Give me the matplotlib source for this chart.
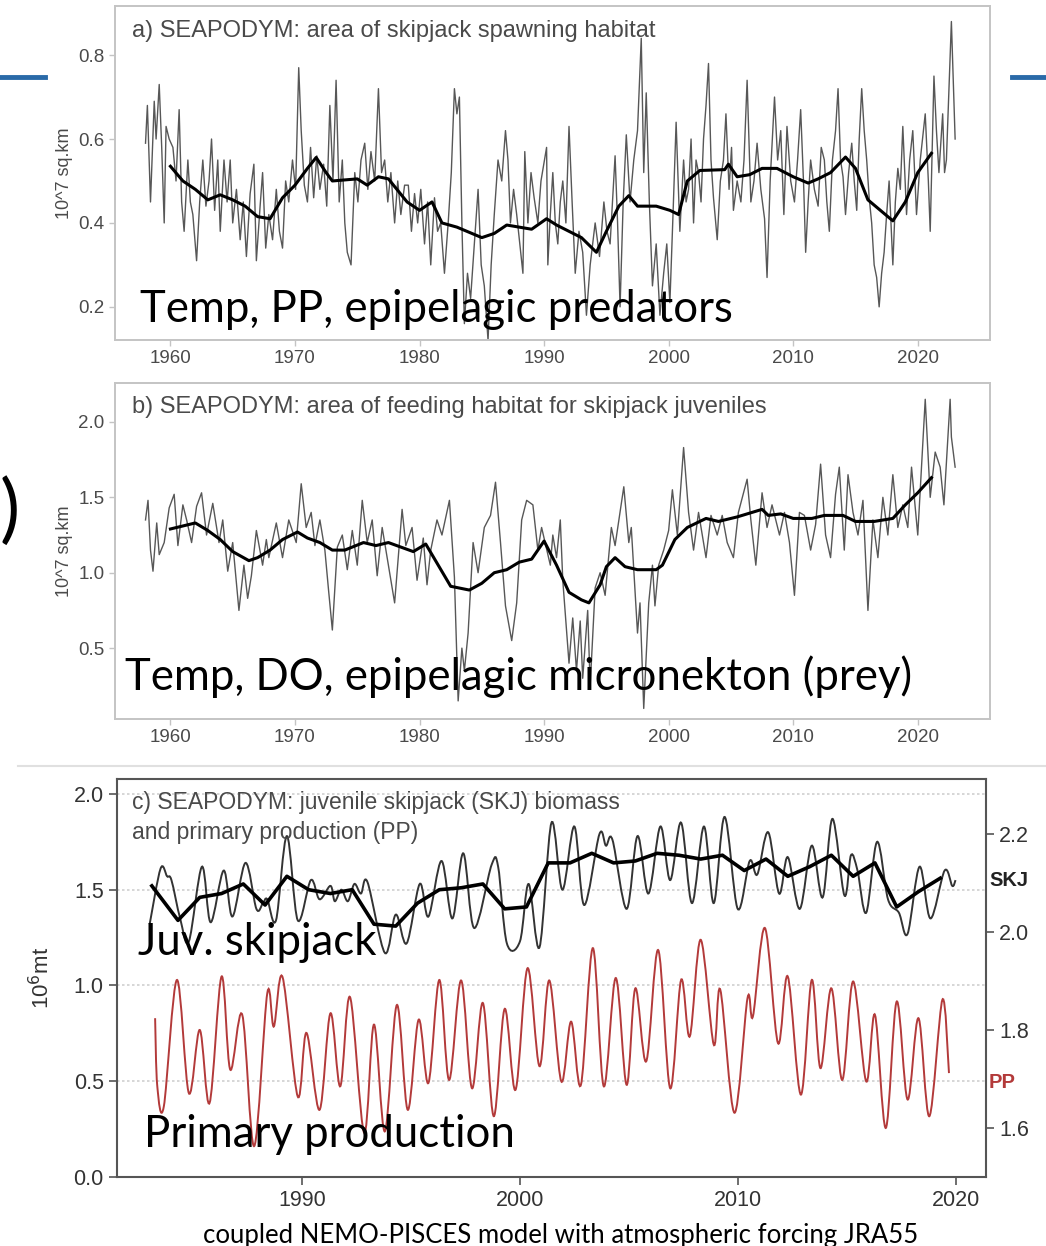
import matplotlib
matplotlib.use("Agg")
import matplotlib.pyplot as plt
from matplotlib.lines import Line2D
from matplotlib.path import Path
from matplotlib.patches import PathPatch

# ---- data ----
# a) area of skipjack spawning habitat (10^7 sq.km)
spawn_raw = [
    (1958.0, 0.59), (1958.15, 0.68), (1958.4, 0.45), (1958.7, 0.69), (1958.85, 0.60),
    (1959.1, 0.73), (1959.3, 0.58), (1959.5, 0.40), (1959.65, 0.63), (1959.9, 0.60),
    (1960.2, 0.58), (1960.45, 0.50), (1960.7, 0.67), (1960.9, 0.45), (1961.1, 0.38),
    (1961.4, 0.55), (1961.6, 0.45), (1961.8, 0.42), (1962.1, 0.31), (1962.35, 0.45),
    (1962.6, 0.55), (1962.85, 0.44), (1963.1, 0.50), (1963.3, 0.60), (1963.55, 0.43),
    (1963.8, 0.55), (1964.0, 0.38), (1964.3, 0.55), (1964.55, 0.45), (1964.8, 0.55),
    (1965.0, 0.40), (1965.3, 0.48), (1965.6, 0.36), (1965.85, 0.45), (1966.1, 0.32),
    (1966.4, 0.47), (1966.7, 0.54), (1966.9, 0.31), (1967.2, 0.44), (1967.4, 0.52),
    (1967.65, 0.34), (1967.9, 0.42), (1968.2, 0.36), (1968.5, 0.48), (1968.75, 0.38),
    (1969.0, 0.34), (1969.25, 0.50), (1969.5, 0.45), (1969.8, 0.55), (1970.05, 0.48),
    (1970.3, 0.77), (1970.5, 0.62), (1970.75, 0.49), (1971.0, 0.45), (1971.25, 0.58),
    (1971.5, 0.46), (1971.75, 0.56), (1972.0, 0.48), (1972.3, 0.54), (1972.55, 0.44),
    (1972.8, 0.68), (1973.05, 0.50), (1973.3, 0.74), (1973.55, 0.45), (1973.8, 0.55),
    (1974.0, 0.40), (1974.2, 0.33), (1974.5, 0.30), (1974.8, 0.52), (1975.05, 0.45),
    (1975.3, 0.55), (1975.6, 0.59), (1975.85, 0.48), (1976.1, 0.57), (1976.4, 0.50),
    (1976.7, 0.72), (1976.95, 0.52), (1977.2, 0.55), (1977.45, 0.45), (1977.7, 0.52),
    (1978.0, 0.40), (1978.25, 0.50), (1978.5, 0.42), (1978.8, 0.49), (1979.1, 0.49),
    (1979.35, 0.38), (1979.6, 0.47), (1979.85, 0.40), (1980.1, 0.48), (1980.4, 0.35),
    (1980.65, 0.45), (1980.9, 0.30), (1981.2, 0.46), (1981.45, 0.38), (1981.7, 0.40),
    (1982.0, 0.28), (1982.3, 0.40), (1982.55, 0.52), (1982.8, 0.72), (1983.0, 0.66),
    (1983.2, 0.70), (1983.4, 0.40), (1983.6, 0.16), (1983.85, 0.28), (1984.1, 0.22),
    (1984.4, 0.35), (1984.7, 0.48), (1984.95, 0.30), (1985.2, 0.25), (1985.5, 0.12),
    (1985.75, 0.30), (1986.0, 0.42), (1986.3, 0.55), (1986.6, 0.50), (1986.9, 0.62),
    (1987.1, 0.55), (1987.3, 0.40), (1987.55, 0.48), (1987.8, 0.42), (1988.05, 0.35),
    (1988.3, 0.28), (1988.45, 0.57), (1988.7, 0.40), (1988.95, 0.52), (1989.2, 0.46),
    (1989.5, 0.40), (1989.75, 0.50), (1990.2, 0.58), (1990.3, 0.30), (1990.5, 0.42),
    (1990.7, 0.52), (1990.9, 0.40), (1991.1, 0.35), (1991.3, 0.45), (1991.5, 0.50),
    (1991.75, 0.40), (1992.0, 0.63), (1992.25, 0.45), (1992.5, 0.28), (1992.8, 0.38),
    (1993.1, 0.33), (1993.4, 0.18), (1993.7, 0.30), (1994.1, 0.40), (1994.45, 0.32),
    (1994.8, 0.45), (1995.05, 0.38), (1995.3, 0.35), (1995.7, 0.56), (1995.9, 0.40),
    (1996.1, 0.20), (1996.35, 0.45), (1996.6, 0.61), (1996.9, 0.45), (1997.2, 0.55),
    (1997.5, 0.62), (1997.8, 0.84), (1998.0, 0.52), (1998.2, 0.71), (1998.45, 0.45),
    (1998.7, 0.25), (1999.0, 0.35), (1999.3, 0.18), (1999.6, 0.28), (1999.85, 0.35),
    (2000.1, 0.21), (2000.35, 0.42), (2000.6, 0.64), (2000.9, 0.38), (2001.2, 0.55),
    (2001.4, 0.45), (2001.6, 0.48), (2001.8, 0.60), (2002.0, 0.40), (2002.2, 0.55),
    (2002.4, 0.52), (2002.6, 0.45), (2002.8, 0.60), (2003.0, 0.68), (2003.2, 0.78),
    (2003.4, 0.55), (2003.6, 0.46), (2003.9, 0.36), (2004.15, 0.50), (2004.4, 0.55),
    (2004.6, 0.66), (2004.85, 0.48), (2005.05, 0.58), (2005.2, 0.43), (2005.5, 0.50),
    (2005.8, 0.45), (2006.05, 0.55), (2006.3, 0.74), (2006.6, 0.45), (2006.85, 0.50),
    (2007.1, 0.59), (2007.4, 0.48), (2007.7, 0.41), (2007.9, 0.27), (2008.15, 0.50),
    (2008.5, 0.70), (2008.75, 0.55), (2009.0, 0.62), (2009.25, 0.42), (2009.5, 0.63),
    (2009.8, 0.50), (2010.1, 0.45), (2010.35, 0.55), (2010.6, 0.67), (2010.85, 0.48),
    (2011.0, 0.33), (2011.2, 0.45), (2011.4, 0.55), (2011.7, 0.48), (2012.0, 0.44),
    (2012.25, 0.58), (2012.5, 0.55), (2012.7, 0.45), (2012.9, 0.38), (2013.15, 0.55),
    (2013.4, 0.62), (2013.6, 0.72), (2013.8, 0.55), (2014.0, 0.51), (2014.2, 0.42),
    (2014.45, 0.52), (2014.7, 0.59), (2014.9, 0.50), (2015.1, 0.43), (2015.3, 0.60),
    (2015.5, 0.72), (2015.7, 0.62), (2015.9, 0.55), (2016.1, 0.46), (2016.3, 0.40),
    (2016.5, 0.30), (2016.7, 0.27), (2016.9, 0.20), (2017.1, 0.28), (2017.3, 0.33),
    (2017.5, 0.42), (2017.7, 0.50), (2018.0, 0.30), (2018.2, 0.45), (2018.4, 0.53),
    (2018.6, 0.48), (2018.8, 0.63), (2019.1, 0.42), (2019.35, 0.55), (2019.6, 0.62),
    (2019.9, 0.42), (2020.2, 0.55), (2020.45, 0.62), (2020.6, 0.66), (2020.85, 0.50),
    (2021.0, 0.38), (2021.3, 0.75), (2021.5, 0.62), (2021.7, 0.52), (2022.0, 0.66),
    (2022.15, 0.52), (2022.3, 0.55), (2022.7, 0.88), (2023.0, 0.60),
]
spawn_smooth = [
    (1960.0, 0.535), (1961.0, 0.50), (1962.0, 0.48), (1963.0, 0.455), (1964.0, 0.467),
    (1965.0, 0.455), (1966.0, 0.44), (1967.0, 0.415), (1968.0, 0.41), (1969.0, 0.46),
    (1970.0, 0.49), (1971.0, 0.53), (1971.7, 0.556), (1972.5, 0.52), (1973.0, 0.50),
    (1975.0, 0.505), (1975.8, 0.49), (1976.7, 0.51), (1977.5, 0.505), (1979.0, 0.45),
    (1980.0, 0.43), (1981.0, 0.45), (1981.8, 0.40), (1983.0, 0.39), (1985.0, 0.365),
    (1986.0, 0.375), (1987.0, 0.395), (1988.0, 0.39), (1989.0, 0.385), (1990.2, 0.41),
    (1991.0, 0.395), (1992.0, 0.38), (1993.0, 0.365), (1994.2, 0.33), (1995.0, 0.38),
    (1996.0, 0.44), (1996.8, 0.465), (1997.5, 0.44), (1999.0, 0.44), (2000.1, 0.43),
    (2000.8, 0.42), (2001.5, 0.50), (2002.5, 0.525), (2004.5, 0.527), (2004.8, 0.54),
    (2005.5, 0.51), (2006.5, 0.515), (2007.5, 0.53), (2008.7, 0.53), (2010.0, 0.51),
    (2011.2, 0.495), (2012.0, 0.505), (2013.0, 0.52), (2014.2, 0.557), (2015.0, 0.53),
    (2016.0, 0.455), (2017.0, 0.43), (2018.0, 0.405), (2019.0, 0.45), (2020.0, 0.52),
    (2021.1, 0.566),
]

# b) area of feeding habitat for skipjack juveniles (10^7 sq.km)
feed_raw = [
    (1958.0, 1.35), (1958.2, 1.48), (1958.4, 1.15), (1958.6, 1.01), (1958.9, 1.33),
    (1959.1, 1.12), (1959.5, 1.20), (1959.9, 1.43), (1960.3, 1.52), (1960.6, 1.18),
    (1961.0, 1.45), (1961.3, 1.35), (1961.7, 1.20), (1962.1, 1.44), (1962.5, 1.53),
    (1962.9, 1.25), (1963.4, 1.46), (1963.9, 1.20), (1964.2, 1.35), (1964.6, 1.01),
    (1965.0, 1.20), (1965.5, 0.75), (1965.9, 1.05), (1966.2, 0.83), (1966.5, 0.98),
    (1966.9, 1.28), (1967.4, 1.05), (1967.7, 1.22), (1967.9, 1.10), (1968.5, 1.33),
    (1969.0, 1.10), (1969.5, 1.35), (1970.1, 1.20), (1970.5, 1.59), (1970.9, 1.30),
    (1971.3, 1.40), (1971.6, 1.18), (1972.0, 1.35), (1972.4, 1.15), (1972.7, 0.88),
    (1973.0, 0.62), (1973.4, 1.17), (1973.8, 1.25), (1974.2, 1.02), (1974.6, 1.28),
    (1975.0, 1.05), (1975.4, 1.48), (1975.8, 1.20), (1976.2, 1.35), (1976.6, 0.98),
    (1977.0, 1.30), (1977.4, 1.10), (1978.0, 0.80), (1978.6, 1.42), (1978.9, 1.18),
    (1979.4, 1.30), (1979.8, 0.95), (1980.3, 1.23), (1980.6, 0.92), (1980.9, 1.15),
    (1981.4, 1.35), (1981.8, 1.25), (1982.4, 1.48), (1982.8, 0.97), (1983.1, 0.15),
    (1983.4, 0.50), (1983.6, 0.35), (1983.9, 0.60), (1984.3, 1.20), (1984.7, 1.00),
    (1985.2, 1.30), (1985.7, 1.38), (1986.1, 1.60), (1986.5, 1.20), (1986.9, 0.78),
    (1987.4, 0.55), (1987.8, 0.80), (1988.2, 1.35), (1988.6, 1.48), (1989.1, 1.45),
    (1989.5, 1.15), (1989.8, 1.30), (1990.5, 1.05), (1990.7, 1.25), (1991.0, 1.10),
    (1991.3, 1.35), (1991.5, 0.95), (1992.0, 0.40), (1992.3, 0.70), (1992.6, 0.35),
    (1992.9, 0.68), (1993.1, 0.30), (1993.5, 0.75), (1993.7, 0.25), (1994.1, 0.90),
    (1994.5, 1.00), (1994.9, 0.85), (1995.4, 1.30), (1995.7, 1.18), (1996.4, 1.57),
    (1996.8, 1.20), (1997.0, 1.30), (1997.5, 0.60), (1997.7, 0.80), (1998.0, 0.10),
    (1998.4, 0.80), (1998.7, 1.05), (1998.9, 0.78), (1999.2, 1.05), (1999.6, 1.15),
    (2000.0, 1.28), (2000.3, 1.55), (2000.7, 1.25), (2001.2, 1.83), (2001.6, 1.40),
    (2002.0, 1.15), (2002.4, 1.40), (2003.0, 1.10), (2003.4, 1.38), (2003.9, 1.25),
    (2004.3, 1.38), (2004.7, 1.20), (2005.2, 1.10), (2005.6, 1.40), (2006.3, 1.62),
    (2006.6, 1.35), (2007.0, 1.05), (2007.5, 1.53), (2007.9, 1.30), (2008.3, 1.45),
    (2008.9, 1.25), (2009.3, 1.40), (2009.7, 1.20), (2010.1, 0.85), (2010.5, 1.40),
    (2010.9, 1.38), (2011.4, 1.15), (2011.8, 1.32), (2012.2, 1.72), (2012.6, 1.25),
    (2013.0, 1.10), (2013.4, 1.52), (2013.7, 1.70), (2014.1, 1.15), (2014.4, 1.65),
    (2014.8, 1.40), (2015.2, 1.25), (2015.6, 1.48), (2016.0, 0.75), (2016.4, 1.35),
    (2016.8, 1.10), (2017.2, 1.50), (2017.6, 1.25), (2018.0, 1.65), (2018.4, 1.30),
    (2018.8, 1.45), (2019.2, 1.30), (2019.5, 1.70), (2020.0, 1.25), (2020.6, 2.15),
    (2021.0, 1.50), (2021.4, 1.80), (2021.8, 1.70), (2022.1, 1.45), (2022.6, 2.15),
    (2022.7, 1.90), (2023.0, 1.70),
]
feed_smooth = [
    (1960.0, 1.29), (1961.0, 1.31), (1962.0, 1.33), (1963.0, 1.28), (1964.0, 1.22),
    (1965.0, 1.14), (1966.3, 1.08), (1967.0, 1.10), (1968.0, 1.15), (1969.0, 1.22),
    (1970.2, 1.27), (1971.0, 1.23), (1972.0, 1.20), (1973.0, 1.15), (1974.0, 1.15),
    (1975.5, 1.20), (1976.5, 1.18), (1977.5, 1.20), (1978.5, 1.17), (1979.5, 1.14),
    (1980.5, 1.19), (1981.5, 1.05), (1982.5, 0.91), (1984.0, 0.885), (1985.0, 0.93),
    (1986.0, 1.00), (1987.0, 1.02), (1988.0, 1.07), (1989.0, 1.09), (1990.0, 1.21),
    (1991.0, 1.05), (1992.0, 0.87), (1993.0, 0.82), (1993.6, 0.80), (1994.5, 0.92),
    (1995.0, 1.04), (1995.7, 1.10), (1996.5, 1.04), (1997.5, 1.02), (1999.0, 1.02),
    (1999.5, 1.05), (2000.5, 1.22), (2001.5, 1.30), (2003.0, 1.36), (2004.0, 1.34),
    (2005.5, 1.37), (2007.5, 1.42), (2008.0, 1.38), (2009.0, 1.39), (2010.0, 1.36),
    (2011.5, 1.36), (2012.5, 1.38), (2014.0, 1.38), (2015.0, 1.34), (2016.5, 1.34),
    (2018.0, 1.36), (2019.0, 1.45), (2020.0, 1.53), (2021.1, 1.63),
]

# c) juvenile skipjack biomass (10^6 mt, left axis) and primary production (right axis)
skj_raw = [
    (1983.0, 1.32), (1983.5, 1.61), (1983.8, 1.57), (1984.0, 1.55), (1984.4, 1.35),
    (1984.8, 1.23), (1985.4, 1.62), (1985.8, 1.33), (1986.4, 1.60), (1986.8, 1.36),
    (1987.4, 1.64), (1987.9, 1.40), (1988.2, 1.43), (1988.4, 1.45), (1988.8, 1.34),
    (1989.3, 1.78), (1989.8, 1.34), (1990.4, 1.55), (1990.8, 1.45), (1991.3, 1.52),
    (1991.5, 1.44), (1991.8, 1.50), (1992.1, 1.44), (1992.4, 1.53), (1992.7, 1.48),
    (1993.0, 1.54), (1993.8, 1.17), (1994.3, 1.37), (1994.8, 1.22), (1995.4, 1.53),
    (1995.8, 1.36), (1996.4, 1.65), (1996.9, 1.35), (1997.4, 1.69), (1997.9, 1.30),
    (1998.7, 1.63), (1999.0, 1.62), (1999.4, 1.22), (2000.0, 1.23), (2000.4, 1.53),
    (2000.9, 1.20), (2001.45, 1.85), (2001.95, 1.50), (2002.5, 1.83), (2002.95, 1.42),
    (2003.65, 1.79), (2003.95, 1.73), (2004.25, 1.76), (2004.9, 1.40), (2005.4, 1.78),
    (2005.9, 1.48), (2006.45, 1.83), (2006.9, 1.55), (2007.4, 1.85), (2007.9, 1.43),
    (2008.45, 1.83), (2008.9, 1.43), (2009.4, 1.88), (2010.0, 1.40), (2010.55, 1.65),
    (2010.9, 1.58), (2011.4, 1.80), (2011.9, 1.48), (2012.3, 1.67), (2012.85, 1.40),
    (2013.4, 1.73), (2013.9, 1.46), (2014.35, 1.87), (2014.9, 1.47), (2015.2, 1.68),
    (2015.5, 1.60), (2015.9, 1.38), (2016.4, 1.75), (2016.9, 1.45), (2017.4, 1.38),
    (2017.8, 1.27), (2018.35, 1.62), (2018.85, 1.35), (2019.5, 1.60), (2019.85, 1.52),
    (2020.0, 1.55),
]
skj_smooth = [
    (1983.1, 1.52), (1984.3, 1.34), (1985.3, 1.46), (1986.3, 1.48), (1987.3, 1.53),
    (1988.3, 1.42), (1989.3, 1.57), (1990.3, 1.50), (1991.3, 1.48), (1992.3, 1.50),
    (1993.3, 1.32), (1994.3, 1.31), (1995.3, 1.43), (1996.3, 1.50), (1997.3, 1.51),
    (1998.3, 1.53), (1999.3, 1.40), (2000.3, 1.41), (2001.3, 1.64), (2002.3, 1.64),
    (2003.3, 1.69), (2004.3, 1.64), (2005.3, 1.65), (2006.3, 1.69), (2007.3, 1.68),
    (2008.3, 1.66), (2009.3, 1.68), (2010.3, 1.60), (2011.3, 1.66), (2012.3, 1.57),
    (2013.3, 1.62), (2014.3, 1.68), (2015.3, 1.57), (2016.3, 1.64), (2017.3, 1.41),
    (2018.3, 1.49), (2019.3, 1.56),
]
pp_raw = [
    (1983.25, 1.824), (1983.35, 1.685), (1983.65, 1.644), (1984.25, 1.902), (1984.8, 1.671),
    (1985.3, 1.800), (1985.75, 1.651), (1986.3, 1.909), (1986.7, 1.719), (1987.25, 1.831),
    (1987.8, 1.563), (1988.4, 1.875), (1988.7, 1.807), (1989.1, 1.908), (1989.8, 1.664),
    (1990.2, 1.794), (1990.8, 1.637), (1991.3, 1.834), (1991.75, 1.685), (1992.2, 1.867),
    (1992.85, 1.590), (1993.3, 1.811), (1993.8, 1.593), (1994.35, 1.851), (1994.85, 1.637),
    (1995.35, 1.821), (1995.8, 1.692), (1996.3, 1.902), (1996.75, 1.698), (1997.3, 1.901),
    (1997.8, 1.681), (1998.3, 1.855), (1998.8, 1.624), (1999.3, 1.843), (1999.8, 1.678),
    (2000.35, 1.926), (2000.9, 1.726), (2001.35, 1.901), (2001.9, 1.695), (2002.35, 1.817),
    (2002.8, 1.688), (2003.35, 1.967), (2003.85, 1.685), (2004.4, 1.906), (2004.9, 1.688),
    (2005.3, 1.885), (2005.8, 1.736), (2006.35, 1.963), (2006.9, 1.681), (2007.4, 1.902),
    (2007.8, 1.787), (2008.3, 1.984), (2008.9, 1.770), (2009.2, 1.882), (2009.85, 1.631),
    (2010.45, 1.865), (2010.7, 1.828), (2011.25, 2.008), (2011.85, 1.773), (2012.3, 1.909),
    (2012.9, 1.668), (2013.4, 1.902), (2013.8, 1.722), (2014.3, 1.885), (2014.8, 1.698),
    (2015.3, 1.899), (2015.9, 1.695), (2016.3, 1.831), (2016.8, 1.600), (2017.3, 1.858),
    (2017.8, 1.658), (2018.3, 1.824), (2018.8, 1.624), (2019.4, 1.862), (2019.7, 1.712),
]

year_ticks_ab = [1960, 1970, 1980, 1990, 2000, 2010, 2020]
year_ticks_c = [1990, 2000, 2010, 2020]

W, H = 1046, 1246
CHART_FONT = ["Liberation Sans", "DejaVu Sans"]
SLIDE_FONT = ["Lato", "DejaVu Sans"]


def rect(x0, y0, x1, y1):
    # pixel box (top-left origin) -> figure fraction
    return [x0 / W, 1 - y1 / H, (x1 - x0) / W, (y1 - y0) / H]


def fx(px):
    return px / W


def fy(py):
    return 1 - py / H


def xs(pairs):
    return [p[0] for p in pairs]


def ys(pairs):
    return [p[1] for p in pairs]


def smooth_curve(ax, pairs, **kw):
    # draw the read points as one smooth bezier path through every point
    verts = [pairs[0]]
    codes = [Path.MOVETO]
    n = len(pairs)
    for i in range(n - 1):
        p0 = pairs[max(i - 1, 0)]
        p1 = pairs[i]
        p2 = pairs[i + 1]
        p3 = pairs[min(i + 2, n - 1)]
        c1 = (p1[0] + (p2[0] - p0[0]) / 6, p1[1] + (p2[1] - p0[1]) / 6)
        c2 = (p2[0] - (p3[0] - p1[0]) / 6, p2[1] - (p3[1] - p1[1]) / 6)
        verts += [c1, c2, p2]
        codes += [Path.CURVE4] * 3
    ax.add_patch(PathPatch(Path(verts, codes), fill=False, **kw))


fig = plt.figure(figsize=(W / 100, H / 100), dpi=100)
fig.patch.set_facecolor("white")


def habitat_panel(box, raw, smooth, ylim, yticks, title, title_y):
    ax = fig.add_axes(rect(*box))
    ax.plot(xs(raw), ys(raw), color="#3a3a3a", lw=1.0, alpha=0.85, solid_joinstyle="round")
    ax.plot(xs(smooth), ys(smooth), color="black", lw=2.2)
    ax.set_xlim(1955.55, 2025.8)
    ax.set_ylim(*ylim)
    ax.set_xticks(year_ticks_ab)
    ax.set_yticks(yticks)
    ax.set_yticklabels([f"{t:.1f}" for t in yticks])
    for s in ax.spines.values():
        s.set_color("#c4c4c4")
        s.set_linewidth(1.4)
    ax.tick_params(colors="#c4c4c4", labelcolor="#4a4a4a", labelsize=13.5, length=4, width=1)
    for lab in ax.get_xticklabels() + ax.get_yticklabels():
        lab.set_family(CHART_FONT)
    ax.set_ylabel("10^7 sq.km", fontsize=13, color="#4a4a4a", family=CHART_FONT, labelpad=4)
    fig.text(fx(132), fy(title_y), title, va="center", ha="left",
             fontsize=17, color="#4a4a4a", family=CHART_FONT)
    return ax


habitat_panel((115, 6, 990, 340), spawn_raw, spawn_smooth, (0.121, 0.917),
              [0.2, 0.4, 0.6, 0.8], "a) SEAPODYM: area of skipjack spawning habitat", 31)
habitat_panel((115, 383, 990, 719), feed_raw, feed_smooth, (0.03, 2.258),
              [0.5, 1.0, 1.5, 2.0], "b) SEAPODYM: area of feeding habitat for skipjack juveniles", 407)

# panel c
axc = fig.add_axes(rect(117, 779, 986, 1177))
axc.set_xlim(1981.5, 2021.4)
axc.set_ylim(0, 2.078)
axc.set_yticks([0.0, 0.5, 1.0, 1.5, 2.0])
axc.set_yticklabels(["0.0", "0.5", "1.0", "1.5", "2.0"])
axc.set_xticks(year_ticks_c)
axc.grid(axis="y", color="#cfcfcf", lw=1.2, ls=(0, (1.5, 1.5)))
axc.set_axisbelow(True)
smooth_curve(axc, skj_raw, edgecolor="#333333", lw=1.4)
axc.plot(xs(skj_smooth), ys(skj_smooth), color="black", lw=2.6)
for s in axc.spines.values():
    s.set_color("#555555")
    s.set_linewidth(1.5)
axc.tick_params(colors="#555555", labelcolor="#333333", labelsize=15.5, length=6, width=1.2)
for lab in axc.get_xticklabels() + axc.get_yticklabels():
    lab.set_family(CHART_FONT)
axc.set_ylabel("10$^6$mt", fontsize=16, color="#333333", family=CHART_FONT, labelpad=14)
fig.text(fx(132), fy(803), "c) SEAPODYM: juvenile skipjack (SKJ) biomass",
         va="center", ha="left", fontsize=16.5, color="#4a4a4a", family=CHART_FONT)
fig.text(fx(132), fy(833), "and primary production (PP)",
         va="center", ha="left", fontsize=16.5, color="#4a4a4a", family=CHART_FONT)

axr = axc.twinx()
axr.set_ylim(1.5, 2.312)
axr.set_yticks([1.6, 1.8, 2.0, 2.2])
axr.set_yticklabels(["1.6", "1.8", "2.0", "2.2"])
smooth_curve(axr, pp_raw, edgecolor="#b33a3a", lw=1.4)
for s in axr.spines.values():
    s.set_visible(False)
axr.tick_params(colors="#555555", labelcolor="#333333", labelsize=15.5, length=6, width=1.2)
for lab in axr.get_yticklabels():
    lab.set_family(CHART_FONT)
fig.text(fx(989), fy(880), "SKJ", fontsize=14.5, fontweight="bold",
         color="#222222", family=CHART_FONT, va="center", ha="left")
fig.text(fx(989), fy(1083), "PP", fontsize=14.5, fontweight="bold",
         color="#b33a3a", family=CHART_FONT, va="center", ha="left")

# slide decorations
fig.add_artist(Line2D([0, fx(45)], [fy(77)] * 2, color="#2a6aa8", lw=3.5))
fig.add_artist(Line2D([fx(1012), 1], [fy(77)] * 2, color="#2a6aa8", lw=3.5))
fig.add_artist(Line2D([fx(18), 1], [fy(766)] * 2, color="#e0e0e0", lw=1.5))
fig.text(fx(0), fy(512), ")", fontsize=54, family=SLIDE_FONT, va="center", ha="left")

# overlay annotations
big = dict(fontsize=31.5, family=SLIDE_FONT, color="black", ha="left", va="baseline", zorder=10)
fig.text(fx(140), fy(322), "Temp, PP, epipelagic predators", **big)
fig.text(fx(125), fy(690), "Temp, DO, epipelagic micronekton (prey)", **big)
fig.text(fx(138), fy(955), "Juv. skipjack", **big)
fig.text(fx(144), fy(1147), "Primary production", **big)
fig.text(fx(561), fy(1243), "coupled NEMO-PISCES model with atmospheric forcing JRA55",
         fontsize=18.5, family=SLIDE_FONT, color="black", ha="center", va="baseline")

fig.savefig("out.png", dpi=100)
